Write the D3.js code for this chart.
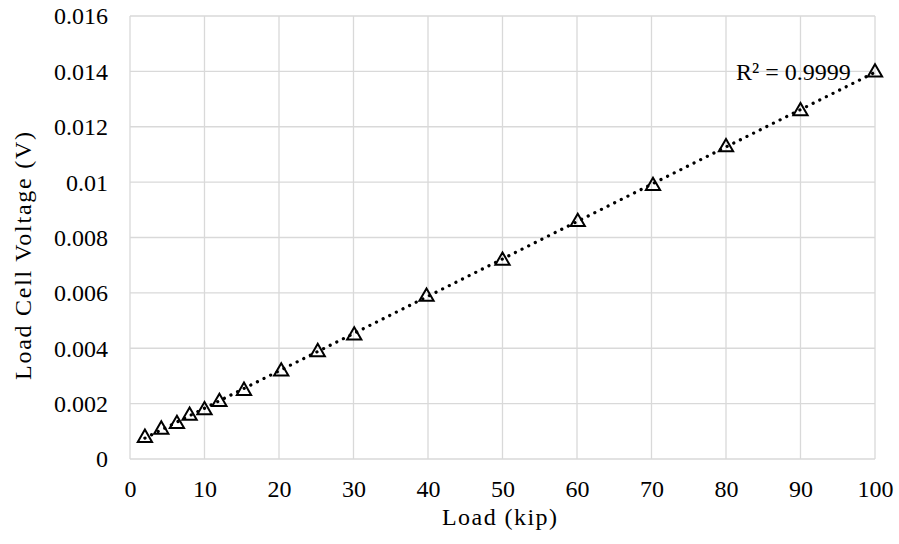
<!DOCTYPE html>
<html>
<head>
<meta charset="utf-8">
<script src="https://cdn.jsdelivr.net/npm/d3@7"></script>
<style>
  body { margin: 0; background: #fff; }
  text { font-family: "Liberation Serif", "Times New Roman", serif; fill: #000; }
</style>
</head>
<body>
<div id="chart"></div>
<script>
const loads = [2, 4.2, 6.3, 8, 10, 12, 15.3, 20.3, 25.2, 30.1, 39.8, 50, 60.1, 70.2, 80, 90, 100];
const voltages = [0.0008, 0.0011, 0.0013, 0.0016, 0.0018, 0.0021, 0.0025, 0.0032, 0.0039, 0.0045, 0.0059, 0.0072, 0.0086, 0.0099, 0.0113, 0.0126, 0.0140];
const xTicks = [0, 10, 20, 30, 40, 50, 60, 70, 80, 90, 100];
const yTicks = [0, 0.002, 0.004, 0.006, 0.008, 0.01, 0.012, 0.014, 0.016];
const r2Label = "R² = 0.9999";

const width = 899, height = 544;
const margin = {left: 130, right: 24, top: 16, bottom: 85};

const svg = d3.select("#chart").append("svg")
    .attr("width", width)
    .attr("height", height);

const x = d3.scaleLinear().domain([0, 100]).range([margin.left, width - margin.right]);
const y = d3.scaleLinear().domain([0, 0.016]).range([height - margin.bottom, margin.top]);

// gridlines
svg.append("g").selectAll("line")
    .data(xTicks).enter().append("line")
    .attr("x1", d => x(d)).attr("x2", d => x(d))
    .attr("y1", y(0)).attr("y2", y(0.016))
    .attr("stroke", "#d9d9d9").attr("stroke-width", 1.3);

svg.append("g").selectAll("line")
    .data(yTicks).enter().append("line")
    .attr("x1", x(0)).attr("x2", x(100))
    .attr("y1", d => y(d)).attr("y2", d => y(d))
    .attr("stroke", "#d9d9d9").attr("stroke-width", 1.3);

// tick labels
const xAxis = svg.append("g")
    .attr("transform", `translate(0,${y(0)})`)
    .call(d3.axisBottom(x).tickValues(xTicks).tickSize(0).tickPadding(0).tickFormat(d3.format("d")));
xAxis.select(".domain").remove();
xAxis.selectAll("text")
    .attr("dy", null)
    .attr("y", 38)
    .style("font-size", "24px")
    .style("font-family", "Liberation Serif, serif");

const yAxis = svg.append("g")
    .attr("transform", `translate(${x(0)},0)`)
    .call(d3.axisLeft(y).tickValues(yTicks).tickSize(0).tickPadding(22).tickFormat(d => d === 0 ? "0" : String(+d.toFixed(3))));
yAxis.select(".domain").remove();
yAxis.selectAll("text")
    .attr("dy", "0.33em")
    .style("font-size", "24px")
    .style("font-family", "Liberation Serif, serif");

// axis titles
svg.append("text")
    .attr("x", 442)
    .attr("y", 525)
    .attr("textLength", 115)
    .attr("lengthAdjust", "spacing")
    .style("font-size", "24px")
    .text("Load (kip)");

svg.append("text")
    .attr("transform", "rotate(-90)")
    .attr("x", -380)
    .attr("y", 31)
    .attr("textLength", 248)
    .attr("lengthAdjust", "spacing")
    .style("font-size", "24px")
    .text("Load Cell Voltage (V)");

// linear trendline
const pts = loads.map((l, i) => ({load: l, v: voltages[i]}));
const mx = d3.mean(loads), my = d3.mean(voltages);
const slope = d3.sum(pts, p => (p.load - mx) * (p.v - my)) / d3.sum(pts, p => (p.load - mx) ** 2);
const intercept = my - slope * mx;
const xMin = d3.min(loads), xMax = d3.max(loads);

svg.append("line")
    .attr("x1", x(xMin)).attr("y1", y(intercept + slope * xMin))
    .attr("x2", x(xMax)).attr("y2", y(intercept + slope * xMax))
    .attr("stroke", "#000")
    .attr("stroke-width", 3.2)
    .attr("stroke-linecap", "round")
    .attr("stroke-dasharray", "0.1,7.3");

// markers
const tri = d3.symbol().type(d3.symbolTriangle).size(88);
svg.append("g").selectAll("path")
    .data(pts).enter().append("path")
    .attr("d", tri)
    .attr("transform", d => `translate(${x(d.load)},${y(d.v) + 1})`)
    .attr("fill", "none")
    .attr("stroke", "#000")
    .attr("stroke-width", 2);

// R² label
svg.append("text")
    .attr("x", 736)
    .attr("y", 80)
    .style("font-size", "24px")
    .text(r2Label);
</script>
</body>
</html>
